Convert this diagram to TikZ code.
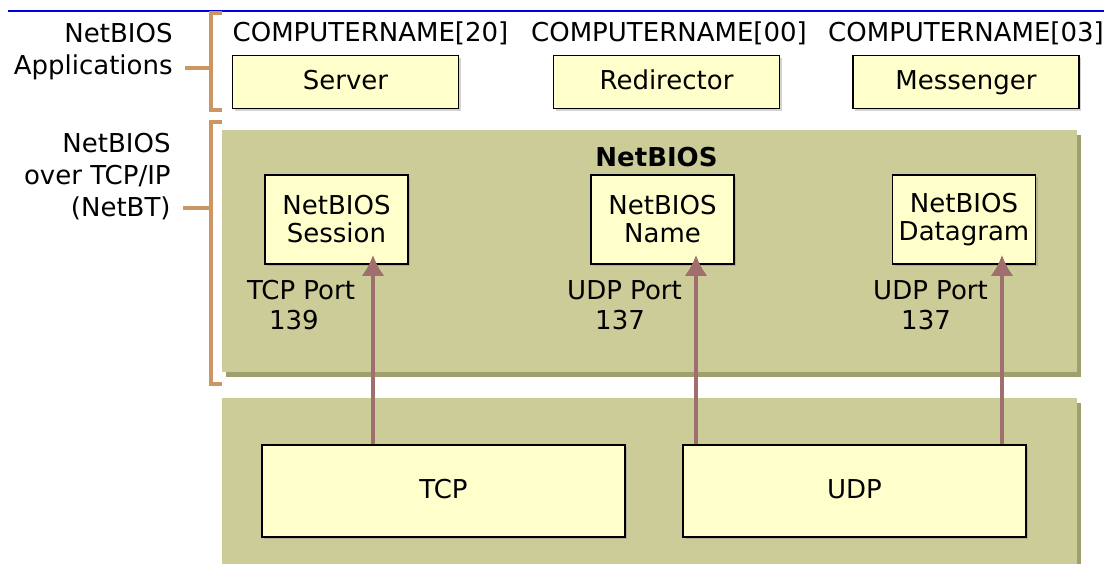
\documentclass[tikz,border=0pt]{standalone}
\usepackage{fontspec}
\setmainfont{DejaVu Sans}
\usetikzlibrary{positioning,shadows,arrows.meta}
\definecolor{boxyellow}{RGB}{255,255,204}
\definecolor{layerfill}{RGB}{204,204,153}
\definecolor{layershade}{RGB}{160,160,110}
\definecolor{bracketbrown}{RGB}{204,150,100}
\definecolor{arrowmauve}{RGB}{160,110,110}
\tikzstyle{layer}=[fill=layerfill, inner sep=0pt, minimum width=427.5pt, drop shadow={shadow xshift=2pt, shadow yshift=-2.5pt, fill=layershade, opacity=1}]
\tikzstyle{yellowbox}=[draw, line width=0.8pt, fill=boxyellow, inner sep=0pt, drop shadow={shadow xshift=1pt, shadow yshift=-1pt, opacity=0.35}]
\tikzstyle{appbox}=[yellowbox, minimum width=113pt, minimum height=26.5pt, text height=9.5pt, text depth=2.5pt]
\tikzstyle{portbox}=[yellowbox, align=center, minimum width=71.5pt, minimum height=44.5pt, font=\fontsize{13}{14}\selectfont]
\tikzstyle{protobox}=[appbox, minimum height=46pt]
\tikzstyle{portlabel}=[align=left, inner sep=0pt, font=\fontsize{13}{15}\selectfont]
\tikzstyle{sidelabel}=[anchor=east, align=right, inner sep=0pt, font=\fontsize{13}{16}\selectfont]
\tikzstyle{bracket}=[-, draw=bracketbrown, line width=2pt]
\tikzstyle{portarrow}=[-{Latex[length=10.5pt,width=11.5pt]}, draw=arrowmauve, fill=arrowmauve, line width=2pt, shorten >=-5pt]

\begin{document}
\begin{tikzpicture}[x=0.5pt, y=-0.5pt, font=\fontsize{13}{15.5}\selectfont]
            \useasboundingbox (0,0) rectangle (1104,563);
            \draw[blue!90!black, line width=1.2pt] (8,11) -- (1104,11);

            \node[layer, minimum height=121pt] (netbt) at (649.5,251) {};
            \node[layer, minimum height=84pt] (transport) at (649.5,482) {};

            \node[sidelabel] (applbl) at (173,52) {NetBIOS\\Applications};
            \node[sidelabel] (netbtlbl) at (171,177) {NetBIOS\\over TCP/IP\\(NetBT)};
            \draw[bracket] (222,13) -- (211,13) -- (211,110) -- (222,110);
            \draw[bracket] (185,68) -- (211,68);
            \draw[bracket] (222,122) -- (211,122) -- (211,384) -- (222,384);
            \draw[bracket] (183,208) -- (211,208);

            \node (name20) at (370.5,33) {COMPUTERNAME[20]};
            \node (name00) at (669,33) {COMPUTERNAME[00]};
            \node (name03) at (966,33) {COMPUTERNAME[03]};
            \node[appbox] (server) at (345.5,82) {Server};
            \node[appbox] (redir) at (666.5,82) {Redirector};
            \node[appbox] (msgr) at (966,82) {Messenger};

            \node[font=\fontsize{13}{15.5}\selectfont\bfseries] (nbtitle) at (656.5,157) {NetBIOS};
            \node[portbox] (session) at (336.5,219.5) {NetBIOS\\Session};
            \node[portbox] (nbname) at (662.5,219.5) {NetBIOS\\Name};
            \node[portbox] (datagram) at (964,219.5) {NetBIOS\\Datagram};
            \node[portlabel] (tcp139) at (301,305) {TCP Port\\\hspace*{11pt}139};
            \node[portlabel] (udp137a) at (624.5,305) {UDP Port\\\hspace*{14pt}137};
            \node[portlabel] (udp137b) at (930.5,305) {UDP Port\\\hspace*{14pt}137};

            \node[protobox, minimum width=181.5pt] (tcp) at (443.5,491) {TCP};
            \node[protobox, minimum width=171.5pt] (udp) at (854.5,491) {UDP};

            \coordinate (p139) at (373,0);
            \coordinate (p137a) at (696,0);
            \coordinate (p137b) at (1002,0);
            \draw[portarrow] (tcp.north -| p139) -- (session.south -| p139);
            \draw[portarrow] (udp.north -| p137a) -- (nbname.south -| p137a);
            \draw[portarrow] (udp.north -| p137b) -- (datagram.south -| p137b);
        \end{tikzpicture}
\end{document}
